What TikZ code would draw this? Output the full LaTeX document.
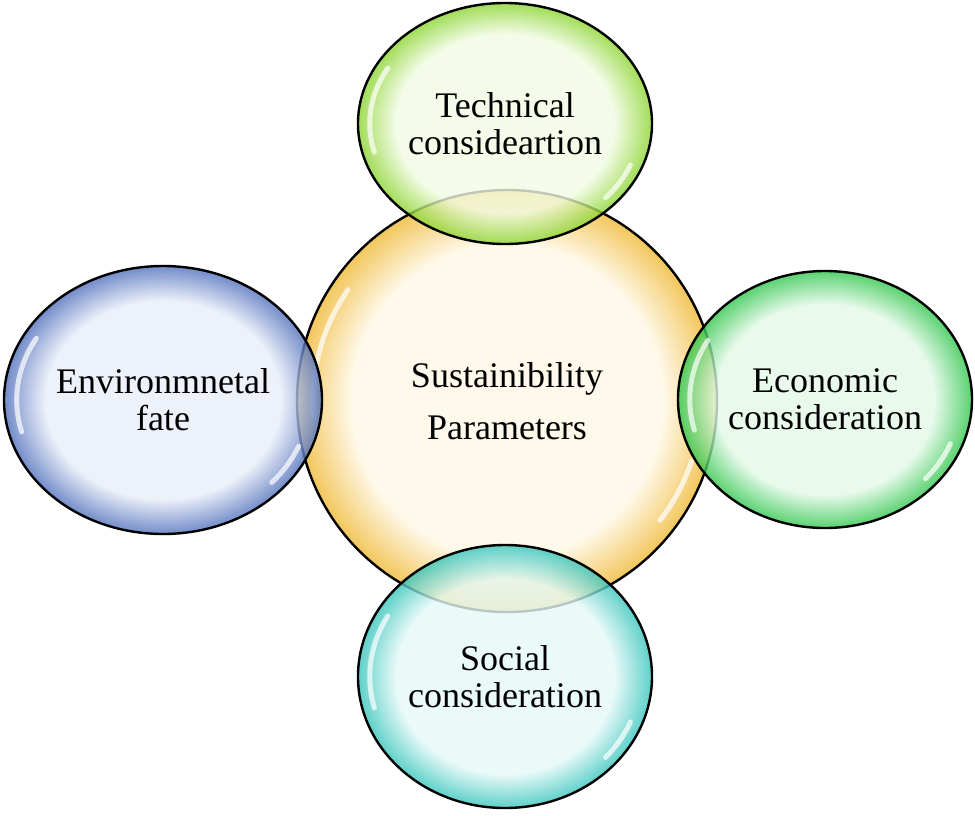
\documentclass[tikz,border=0pt]{standalone}
\usepackage{fontspec}
\setmainfont{Liberation Serif}
\usetikzlibrary{shapes.geometric}

\definecolor{coreIn}{HTML}{FFF8E6}
\definecolor{coreOut}{HTML}{EFB833}
\definecolor{techIn}{HTML}{F1FBE3}
\definecolor{techOut}{HTML}{8AD42E}
\definecolor{envIn}{HTML}{E8EDF8}
\definecolor{envOut}{HTML}{5070BC}
\definecolor{econIn}{HTML}{E4F9E9}
\definecolor{econOut}{HTML}{30C64C}
\definecolor{socIn}{HTML}{E5F9F7}
\definecolor{socOut}{HTML}{36C4BC}
\pgfdeclareradialshading{coreBub}{\pgfpointorigin}{color(0bp)=(coreIn); color(18.5bp)=(coreIn); color(25bp)=(coreOut); color(50bp)=(coreOut)}
\pgfdeclareradialshading{techBub}{\pgfpointorigin}{color(0bp)=(techIn); color(18.5bp)=(techIn); color(25bp)=(techOut); color(50bp)=(techOut)}
\pgfdeclareradialshading{envBub}{\pgfpointorigin}{color(0bp)=(envIn); color(18.5bp)=(envIn); color(25bp)=(envOut); color(50bp)=(envOut)}
\pgfdeclareradialshading{econBub}{\pgfpointorigin}{color(0bp)=(econIn); color(18.5bp)=(econIn); color(25bp)=(econOut); color(50bp)=(econOut)}
\pgfdeclareradialshading{socBub}{\pgfpointorigin}{color(0bp)=(socIn); color(18.5bp)=(socIn); color(25bp)=(socOut); color(50bp)=(socOut)}

\begin{document}
\begin{tikzpicture}[x=1pt, y=-1pt,
bubble/.style={ellipse, draw=black, line width=2.4pt, inner sep=0pt, outer sep=0pt, align=center,
  font=\fontsize{36}{37}\selectfont, shade, shading=#1Bub, fill opacity=0.8, text opacity=1},
gloss/.style={white, line width=5pt, line cap=round, opacity=0.7},
]
\useasboundingbox (0,0) rectangle (975,815);
%Nodes
\node[bubble=core, minimum width=420pt, minimum height=422pt, font=\fontsize{36}{52}\selectfont]
  (core) at (507,401) {Sustainibility\\Parameters};
\draw[gloss] (core.center) ++(145:194pt) arc[start angle=145, end angle=185, radius=194pt];
\draw[gloss] (core.center) ++(-18:194pt) arc[start angle=-18, end angle=-38, radius=194pt];
\node[bubble=tech, minimum width=294pt, minimum height=241pt] (tech) at (505,123.5) {Technical\\consideartion};
\node[bubble=env, minimum width=318pt, minimum height=268pt] (env) at (163,400) {Environmnetal\\fate};
\node[bubble=econ, minimum width=294pt, minimum height=257pt] (econ) at (825,399.5) {Economic\\consideration};
\node[bubble=soc, minimum width=294pt, minimum height=263pt] (soc) at (505,676.5) {Social\\consideration};
%Gloss
\foreach \n/\rx/\ry in {tech/147/120.5, env/159/134, econ/147/128.5, soc/147/131.5} {
  \draw[gloss] (\n.center) ++(150:{0.92*\rx pt} and {0.92*\ry pt})
    arc[start angle=150, end angle=195, x radius=0.92*\rx pt, y radius=0.92*\ry pt];
  \draw[gloss] (\n.center) ++(-22:{0.92*\rx pt} and {0.92*\ry pt})
    arc[start angle=-22, end angle=-42, x radius=0.92*\rx pt, y radius=0.92*\ry pt];
}
\end{tikzpicture}
\end{document}
